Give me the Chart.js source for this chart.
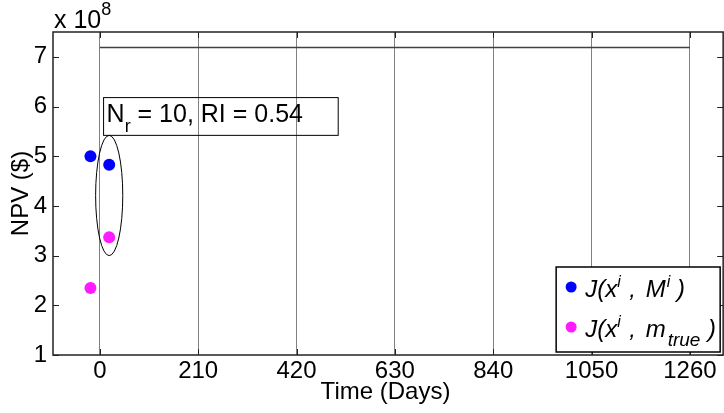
<!DOCTYPE html>
<html>
<head>
<meta charset="utf-8">
<script src="https://cdn.jsdelivr.net/npm/chart.js@4.4.1/dist/chart.umd.min.js"></script>
<style>
  html, body { margin: 0; padding: 0; background: #fff; overflow: hidden; }
  #npvChart { display: block; }
</style>
</head>
<body>
<canvas id="npvChart" width="724" height="413"></canvas>
<script>
// NPV values (x 1e8) per realization
const days = [-20, 20];
const npvModel = [5.0, 4.83];
const npvTrue = [2.35, 3.37];

// reference level across the whole horizon
const refDays = [0, 1260];
const refNpv = [7.19, 7.19];

const xTicks = [0, 210, 420, 630, 840, 1050, 1260];
const yTicks = [1, 2, 3, 4, 5, 6, 7];

// ellipse around the selected realization, and the info box
const ringDay = 20, ringHalfDays = 29, ringLow = 3.0, ringHigh = 5.42;
const infoBox = { d0: 8, d1: 509, v0: 5.42, v1: 6.18 };

// axes frame reaches a bit past the plotted x range on the right
const xMin = -100, xMax = 1320, frameRightDay = 1331;

const FONT = "Arial, 'Liberation Sans', sans-serif";
Chart.defaults.font.family = FONT;

function pts(xs, ys) {
  return xs.map((x, i) => ({ x, y: ys[i] }));
}

// draws text pieces in a row: [text, size, dy, italic]; a number is a gap in px
function drawRuns(ctx, x, y, runs) {
  for (const r of runs) {
    if (typeof r === 'number') { x += r; continue; }
    const [t, size, dy, it] = r;
    ctx.font = (it ? 'italic ' : '') + size + 'px ' + FONT;
    ctx.fillText(t, x, y + dy);
    x += ctx.measureText(t).width;
  }
  return x;
}

const decorations = {
  id: 'decorations',
  afterDatasetsDraw(chart) {
    const { ctx, chartArea: a, scales: { x, y } } = chart;
    const right = x.getPixelForValue(frameRightDay);
    ctx.save();

    // ellipse
    const cx = x.getPixelForValue(ringDay);
    const rx = x.getPixelForValue(ringDay + ringHalfDays) - cx;
    const top = y.getPixelForValue(ringHigh), bot = y.getPixelForValue(ringLow);
    ctx.strokeStyle = '#000';
    ctx.lineWidth = 1;
    ctx.beginPath();
    ctx.ellipse(cx, (top + bot) / 2, rx, (bot - top) / 2, 0, 0, Math.PI * 2);
    ctx.stroke();

    // info box
    const bx0 = x.getPixelForValue(infoBox.d0), bx1 = x.getPixelForValue(infoBox.d1);
    const by0 = y.getPixelForValue(infoBox.v1), by1 = y.getPixelForValue(infoBox.v0);
    ctx.strokeRect(bx0, by0, bx1 - bx0, by1 - by0);
    ctx.fillStyle = '#000';
    ctx.textBaseline = 'alphabetic';
    ctx.textAlign = 'left';
    drawRuns(ctx, bx0 + 3, by0 + 24, [
      ['N', 25, 0, false], ['r', 18, 10, false], [' = 10, RI = 0.54', 25, 0, false]
    ]);

    // axes box with inward ticks
    ctx.strokeStyle = '#222';
    ctx.lineWidth = 1.5;
    ctx.strokeRect(a.left, a.top, right - a.left, a.bottom - a.top);
    ctx.lineWidth = 1;
    ctx.beginPath();
    for (const t of xTicks) {
      const px = Math.round(x.getPixelForValue(t)) + 0.5;
      ctx.moveTo(px, a.bottom); ctx.lineTo(px, a.bottom - 6);
      ctx.moveTo(px, a.top); ctx.lineTo(px, a.top + 6);
    }
    for (const t of yTicks) {
      const py = Math.round(y.getPixelForValue(t)) + 0.5;
      ctx.moveTo(a.left, py); ctx.lineTo(a.left + 6, py);
      ctx.moveTo(right, py); ctx.lineTo(right - 6, py);
    }
    ctx.stroke();

    // exponent label
    ctx.fillStyle = '#000';
    drawRuns(ctx, a.left + 1, a.top - 4, [['x 10', 25, 0, false], ['8', 18, -13, false]]);

    // legend
    const lw = 164, lh = 85;
    const lx = right - 3 - lw, ly = a.bottom - 3 - lh;
    ctx.fillStyle = '#fff';
    ctx.fillRect(lx, ly, lw, lh);
    ctx.strokeStyle = '#000';
    ctx.lineWidth = 1.5;
    ctx.strokeRect(lx, ly, lw, lh);
    const rows = [
      { color: '#0000ff', dy: 20, runs: [['J(x', 24, 0, true], ['i', 16, -10, true], 2, [' , ', 24, 0, true], 3, ['M', 24, 0, true], 1, ['i', 16, -10, true], [' )', 24, 0, true]] },
      { color: '#ff1aff', dy: 60, runs: [['J(x', 24, 0, true], ['i', 16, -10, true], 2, [' , ', 24, 0, true], 3, ['m', 24, 0, true], 2, ['true', 19, 9, true], 1, [' )', 24, 0, true]] }
    ];
    for (const r of rows) {
      ctx.fillStyle = r.color;
      ctx.beginPath();
      ctx.arc(lx + 15, ly + r.dy, 5.5, 0, Math.PI * 2);
      ctx.fill();
      ctx.fillStyle = '#000';
      drawRuns(ctx, lx + 29, ly + r.dy + 10, r.runs);
    }
    ctx.restore();
  }
};

new Chart(document.getElementById('npvChart'), {
  type: 'scatter',
  data: {
    datasets: [
      { label: 'ref', data: pts(refDays, refNpv), showLine: true, borderColor: '#404040', borderWidth: 1.5, pointRadius: 0 },
      { label: 'J(x, M)', data: pts(days, npvModel), backgroundColor: '#0000ff', borderColor: '#0000ff', pointRadius: 6, pointBorderWidth: 0 },
      { label: 'J(x, m_true)', data: pts(days, npvTrue), backgroundColor: '#ff1aff', borderColor: '#ff1aff', pointRadius: 6, pointBorderWidth: 0 }
    ]
  },
  options: {
    responsive: false,
    maintainAspectRatio: false,
    animation: false,
    layout: { padding: { top: 32, right: 1, left: 0, bottom: 0 } },
    plugins: { legend: { display: false }, tooltip: { enabled: false } },
    scales: {
      x: {
        type: 'linear', min: xMin, max: xMax,
        afterBuildTicks: s => { s.ticks = xTicks.map(v => ({ value: v })); },
        afterFit: s => { s.height = 58; s.paddingLeft = 0; s.paddingRight = 0; },
        grid: { color: '#808080', lineWidth: 1, drawTicks: false },
        border: { display: false },
        ticks: { color: '#000', font: { family: FONT, size: 24 }, padding: 2, maxRotation: 0, callback: v => String(v) },
        title: { display: true, text: 'Time (Days)', color: '#000', font: { family: FONT, size: 24 }, padding: { bottom: 6 } }
      },
      y: {
        type: 'linear', min: 1, max: 7.5,
        afterBuildTicks: s => { s.ticks = yTicks.map(v => ({ value: v })); },
        afterFit: s => { s.width = 53; },
        grid: { display: false, drawTicks: false },
        border: { display: false },
        ticks: { color: '#000', font: { family: FONT, size: 24 }, padding: 6, callback: v => String(v) },
        title: { display: true, text: 'NPV ($)', color: '#000', font: { family: FONT, size: 24 }, padding: { top: 7 } }
      }
    }
  },
  plugins: [decorations]
});
</script>
</body>
</html>
